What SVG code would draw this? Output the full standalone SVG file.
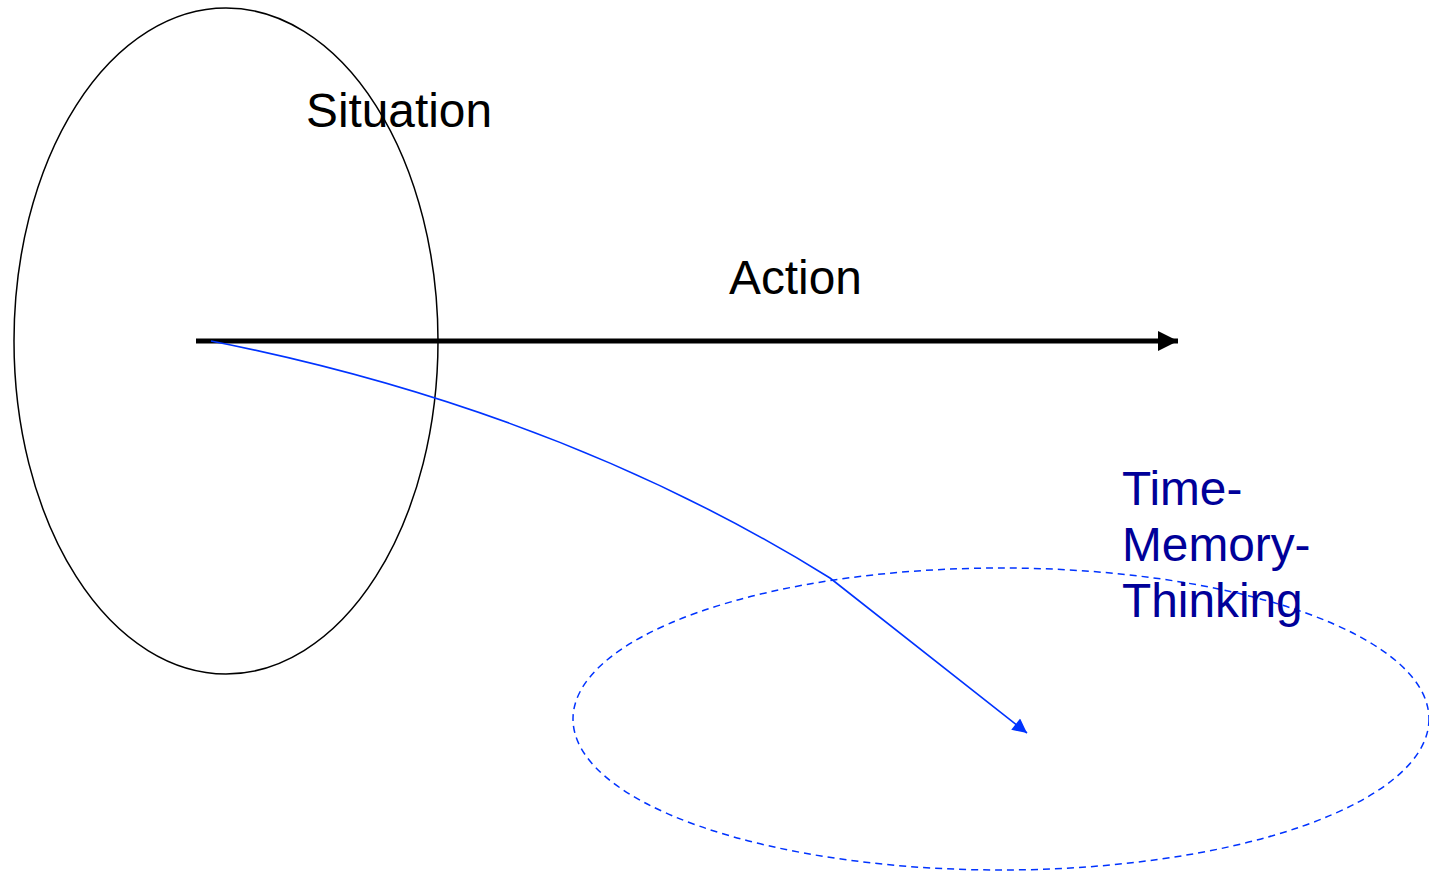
<svg xmlns="http://www.w3.org/2000/svg" width="1429" height="872" viewBox="0 0 1429 872">
<style>
.lbl{font-family:"Liberation Sans",Arial,sans-serif;font-size:47.8px;fill:#000}
.blue{fill:#000099}
</style>
<defs>
<marker id="ab" viewBox="0 0 10 10" refX="10" refY="5" markerWidth="4" markerHeight="4" orient="auto" markerUnits="strokeWidth"><path d="M0,0 L10,5 L0,10 z" fill="#000"/></marker>
<marker id="ablue" viewBox="0 0 10 10" refX="10" refY="5" markerWidth="11" markerHeight="9" orient="auto" markerUnits="strokeWidth"><path d="M0,0 L10,5 L0,10 z" fill="#0033ff"/></marker>
</defs>
<rect width="1429" height="872" fill="#fff"/>
<g id="situation">
<ellipse cx="226" cy="341" rx="212" ry="333" fill="none" stroke="#000" stroke-width="1.5"/>
<text class="lbl" x="306" y="127">Situation</text>
</g>
<g id="time-memory-thinking">
<ellipse cx="1001" cy="719" rx="428" ry="151" fill="none" stroke="#0033ff" stroke-width="1.5" stroke-dasharray="7,5"/>
<text class="lbl blue" x="1122" y="505">Time-</text>
<text class="lbl blue" x="1122" y="561">Memory-</text>
<text class="lbl blue" x="1122" y="617">Thinking</text>
</g>
<g id="action-label">
<text class="lbl" x="729" y="294">Action</text>
</g>
<g id="connectors">
<line x1="196" y1="341" x2="1178" y2="341" stroke="#000" stroke-width="5" marker-end="url(#ab)"/>
<path d="M211,341 Q560,410 830,578 L1027,733" fill="none" stroke="#0033ff" stroke-width="1.6" marker-end="url(#ablue)"/>
</g>
</svg>
